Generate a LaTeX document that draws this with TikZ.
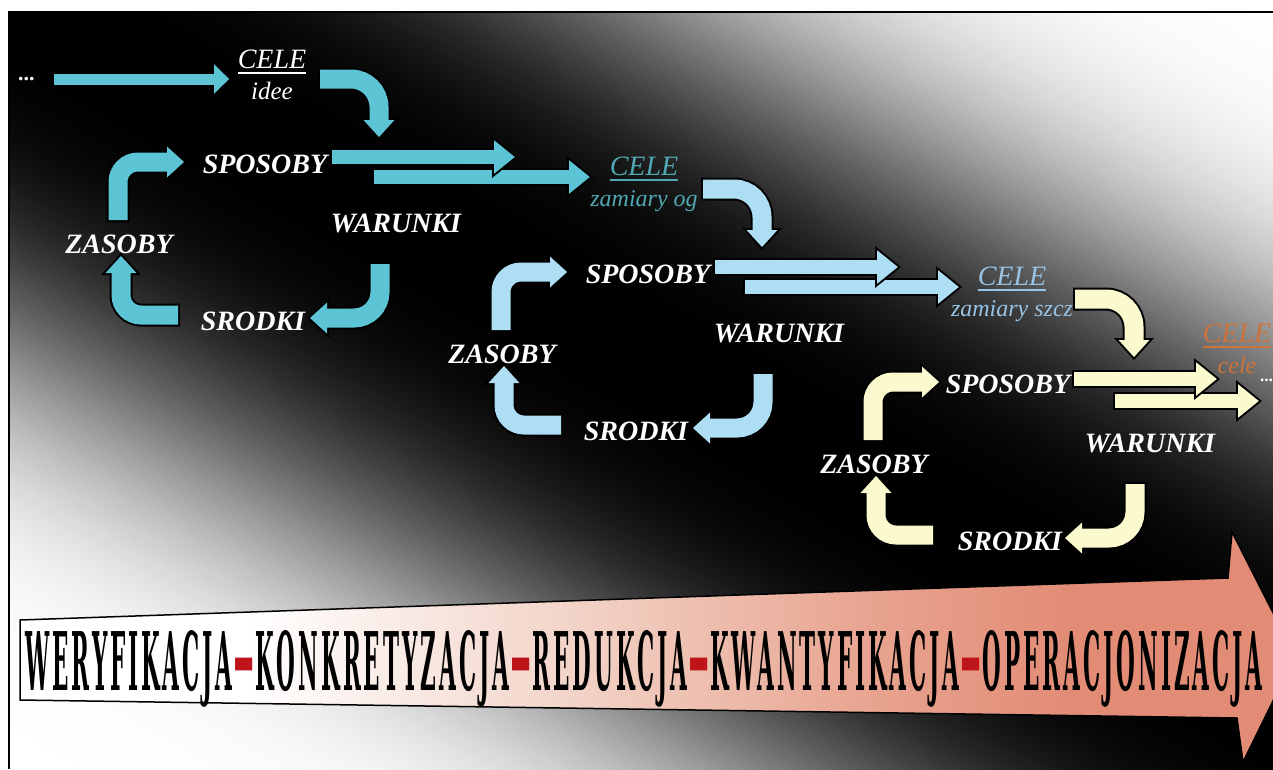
\documentclass[tikz,border=0pt]{standalone}
\usepackage{fontspec}
\setmainfont{Liberation Serif}
\newfontfamily\bannerfont{DejaVu Serif}[LetterSpace=14]
\usetikzlibrary{arrows.meta,calc}

% arrow fills and text colours
\definecolor{cyanarrow}{RGB}{92,196,212}
\definecolor{bluearrow}{RGB}{174,222,244}
\definecolor{yellowarrow}{RGB}{250,250,206}
\definecolor{tealtext}{RGB}{80,168,178}
\definecolor{bluetext}{RGB}{150,195,230}
\definecolor{orangetext}{RGB}{205,115,60}
\definecolor{bannerred}{RGB}{190,20,25}
\definecolor{salmon}{RGB}{226,140,118}
\definecolor{salmonmid}{RGB}{232,165,145}
\definecolor{blush}{RGB}{242,210,198}

% white-to-salmon fill of the large arrow
\pgfdeclarehorizontalshading{bannershade}{100bp}{color(0bp)=(white); color(34bp)=(white);
  color(47bp)=(blush); color(58bp)=(salmonmid); color(66bp)=(salmon); color(100bp)=(salmon)}

\def\olw{2}
% block arrow with a black outline: [path options]{fill}{shaft}{head width}{head length}{path}
\newcommand\blockarrow[6][]{%
  \pgfmathsetmacro\baSh{\olw*sqrt(1+(2*#5/#4)^2)}%
  \pgfmathsetmacro\baL{#5-\olw-\baSh}%
  \pgfmathsetmacro\baW{#4*\baL/#5}%
  \pgfmathsetmacro\baS{#3-2*\olw}%
  \draw[#1, line width=#3pt, black,
        -{Triangle[length=#5pt, width=#4pt, line width=0pt]}] #6;%
  \draw[#1, line width=\baS pt, #2, shorten <=\olw pt, shorten >=\baSh pt,
        -{Triangle[length=\baL pt, width=\baW pt, line width=0pt]}] #6;%
}
% red hyphen between the terms of the chain
\newcommand\chainhyph{\textcolor{bannerred}{\scalebox{2.6}[1.2]{-}}}

\begin{document}
\begin{tikzpicture}[x=1pt, y=-1pt,
  lbl/.style={font=\fontsize{28}{30}\selectfont\bfseries\itshape, text=white, inner sep=0pt, anchor=base},
  celetxt/.style={font=\fontsize{28}{30}\selectfont\itshape, inner sep=0pt, anchor=base},
  subtxt/.style={font=\fontsize{24}{26}\selectfont\itshape, inner sep=0pt, anchor=base},
  dotstxt/.style={font=\fontsize{22}{24}\selectfont\bfseries, text=white, inner sep=0pt, anchor=base west},
  uline/.style={line width=2pt}]
\useasboundingbox (0,0) rectangle (1273,769);

\begin{scope}
\clip (9,12) rectangle (1273,769);
% dark diagonal band: thin strips, black on the middle line, fading to white on both sides
\begin{scope}[rotate around={-29.3:(600,330)}]
  \foreach \d in {-820,-815,...,820} {
    \pgfmathsetmacro\pct{max(0,min(100,100*exp(-(abs(\d+2.5)/340)^3)))}
    \fill[black!\pct] (-500,{330+\d-0.5}) rectangle (1700,{330+\d+5.5});
  }
\end{scope}

% ---------- labels ----------
\node[dotstxt] (dotsL) at (18,80) {...};
\node[celetxt, text=white] (cele1) at (272,68) {CELE};
\node[subtxt, text=white, font=\fontsize{25}{27}\selectfont\itshape] (idee1) at (272,99) {idee};
\node[lbl] (spos1) at (265,173) {SPOSOBY};
\node[lbl] (war1) at (396,232) {WARUNKI};
\node[lbl] (zas1) at (119,253) {ZASOBY};
\node[lbl] (srod1) at (253,330) {SRODKI};

\node[celetxt, text=tealtext] (cele2) at (644,175) {CELE};
\node[subtxt, text=tealtext] (zam2) at (644,206) {zamiary og};
\node[lbl] (spos2) at (648,283) {SPOSOBY};
\node[lbl] (war2) at (779,342) {WARUNKI};
\node[lbl] (zas2) at (502,363) {ZASOBY};
\node[lbl] (srod2) at (636,440) {SRODKI};

\node[celetxt, text=bluetext] (cele3) at (1012,285) {CELE};
\node[subtxt, text=bluetext] (zam3) at (1012,316) {zamiary szcz};
\node[lbl] (spos3) at (1008,393) {SPOSOBY};
\node[lbl] (war3) at (1150,452) {WARUNKI};
\node[lbl] (zas3) at (874,473) {ZASOBY};
\node[lbl] (srod3) at (1010,550) {SRODKI};

\node[celetxt, text=orangetext] (cele4) at (1237,342) {CELE};
\node[subtxt, text=orangetext] (cel4) at (1237,373) {cele};
\node[dotstxt, font=\fontsize{17}{19}\selectfont\bfseries] (dotsR) at (1260,381) {...};

\draw[uline, white] ($(cele1.base west)+(0,5)$) -- ($(cele1.base east)+(0,5)$);
\draw[uline, tealtext] ($(cele2.base west)+(0,5)$) -- ($(cele2.base east)+(0,5)$);
\draw[uline, bluetext] ($(cele3.base west)+(0,5)$) -- ($(cele3.base east)+(0,5)$);
\draw[uline, orangetext] ($(cele4.base west)+(0,5)$) -- ($(cele4.base east)+(0,5)$);

% ---------- connector end points ----------
\coordinate (in0) at (52,79);    \coordinate (in1) at (232,79);
\coordinate (a1s) at (318,79);   \coordinate (a1e) at (379,140);
\coordinate (u1s) at (330,157);  \coordinate (u1e) at (518,157);
\coordinate (l1s) at (372,177);  \coordinate (l1e) at (593,177);
\coordinate (b1s) at (380,262);  \coordinate (b1e) at (307,318);
\coordinate (c1s) at (180,315);  \coordinate (c1e) at (121,253);
\coordinate (d1s) at (118,222);  \coordinate (d1e) at (187,162);

\coordinate (a2s) at (701,189);  \coordinate (a2e) at (762,250);
\coordinate (u2s) at (713,267);  \coordinate (u2e) at (901,267);
\coordinate (l2s) at (743,287);  \coordinate (l2e) at (962,287);
\coordinate (b2s) at (763,372);  \coordinate (b2e) at (690,428);
\coordinate (c2s) at (563,425);  \coordinate (c2e) at (504,363);
\coordinate (d2s) at (501,332);  \coordinate (d2e) at (570,272);

\coordinate (a3s) at (1073,299); \coordinate (a3e) at (1134,360);
\coordinate (u3s) at (1072,379); \coordinate (u3e) at (1220,379);
\coordinate (l3s) at (1113,401); \coordinate (l3e) at (1262,401);
\coordinate (b3s) at (1135,482); \coordinate (b3e) at (1062,538);
\coordinate (c3s) at (935,535);  \coordinate (c3e) at (876,473);
\coordinate (d3s) at (873,442);  \coordinate (d3e) at (942,382);

% ---------- first cycle ----------
\blockarrow{cyanarrow}{15}{39}{20}{(in0) -- (in1)}
\blockarrow[rounded corners=28pt]{cyanarrow}{23}{40}{22}{(a1s) -| (a1e)}
\blockarrow{cyanarrow}{18}{42}{26}{(l1s) -- (l1e)}
\blockarrow{cyanarrow}{18}{42}{26}{(u1s) -- (u1e)}
\blockarrow[rounded corners=26pt]{cyanarrow}{23}{40}{22}{(b1s) |- (b1e)}
\blockarrow[rounded corners=20pt]{cyanarrow}{23}{40}{22}{(c1s) -| (c1e)}
\blockarrow[rounded corners=20pt]{cyanarrow}{23}{40}{22}{(d1s) |- (d1e)}

% ---------- second cycle ----------
\blockarrow[rounded corners=28pt]{bluearrow}{23}{40}{22}{(a2s) -| (a2e)}
\blockarrow{bluearrow}{18}{42}{26}{(l2s) -- (l2e)}
\blockarrow{bluearrow}{18}{42}{26}{(u2s) -- (u2e)}
\blockarrow[rounded corners=26pt]{bluearrow}{23}{40}{22}{(b2s) |- (b2e)}
\blockarrow[rounded corners=20pt]{bluearrow}{23}{40}{22}{(c2s) -| (c2e)}
\blockarrow[rounded corners=20pt]{bluearrow}{23}{40}{22}{(d2s) |- (d2e)}

% ---------- third cycle ----------
\blockarrow[rounded corners=28pt]{yellowarrow}{23}{40}{22}{(a3s) -| (a3e)}
\blockarrow{yellowarrow}{18}{42}{26}{(l3s) -- (l3e)}
\blockarrow{yellowarrow}{18}{42}{26}{(u3s) -- (u3e)}
\blockarrow[rounded corners=26pt]{yellowarrow}{23}{40}{22}{(b3s) |- (b3e)}
\blockarrow[rounded corners=20pt]{yellowarrow}{23}{40}{22}{(c3s) -| (c3e)}
\blockarrow[rounded corners=20pt]{yellowarrow}{23}{40}{22}{(d3s) |- (d3e)}

% ---------- large arrow with the chain of terms ----------
\shadedraw[shading=bannershade, draw=black, line width=1.5pt, line join=miter]
  (20,620) -- (1228,578) -- (1232,532) -- (1295,656) -- (1243,762) -- (1237,718) -- (20,700) -- cycle;
\node[anchor=base, inner sep=0pt] (chain) at (644,690)
  {\resizebox{1237pt}{60pt}{\bannerfont\bfseries WERYFIKACJA\chainhyph KONKRETYZACJA\chainhyph REDUKCJA\chainhyph KWANTYFIKACJA\chainhyph OPERACJONIZACJA}};
\end{scope}

% panel frame
\draw[line width=2pt] (9,769) -- (9,12) -- (1273,12);
\end{tikzpicture}
\end{document}
